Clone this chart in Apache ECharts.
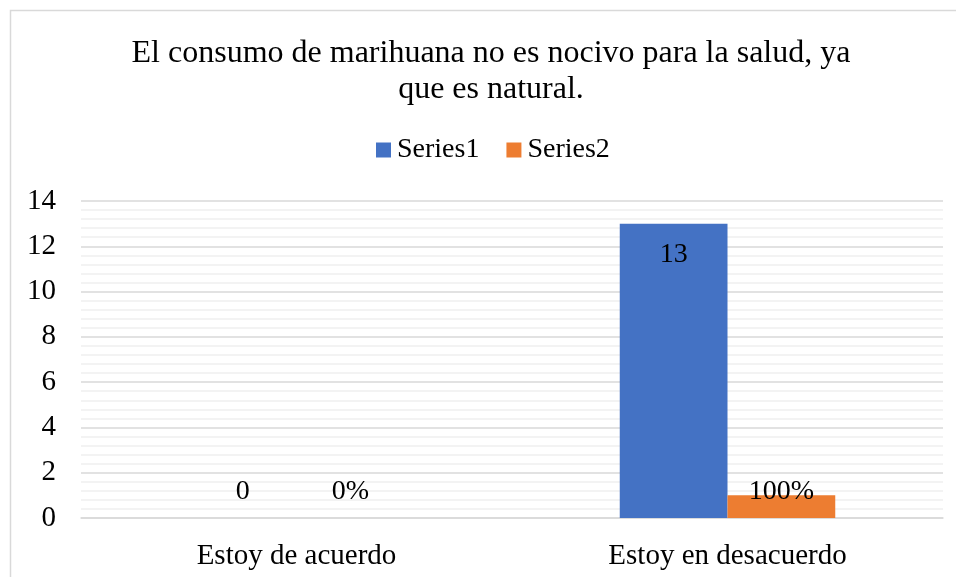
<!DOCTYPE html>
<html>
<head>
<meta charset="utf-8">
<script src="https://cdn.jsdelivr.net/npm/echarts@6/dist/echarts.min.js"></script>
<style>
  html, body { margin: 0; padding: 0; background: #fff; }
  #chart { width: 956px; height: 577px; }
</style>
</head>
<body>
<div id="chart"></div>
<script>
const categories = ['Estoy de acuerdo', 'Estoy en desacuerdo']
const series1 = [0, 13]
const series2 = [0, 1] // shown as percent
const yTicks = { min: 0, max: 14, interval: 2 }

const font = 'Liberation Serif'
const chart = echarts.init(document.getElementById('chart'))

// Excel-style label placement: value labels sit inside the bar end, zeros just above the axis
const labelFor = (v) => (v > 2
  ? { position: 'insideTop', distance: 17 }
  : { position: 'insideBottom', distance: 12 })

const option = {
  animation: false,
  backgroundColor: '#fff',
  graphic: [
    {
      type: 'rect',
      shape: { x: 10.5, y: 10.5, width: 960, height: 600 },
      style: { fill: 'none', stroke: '#d9d9d9', lineWidth: 1.5 },
      silent: true
    }
  ],
  title: {
    text: 'El consumo de marihuana no es nocivo para la salud, ya\nque es natural.',
    left: 486,
    top: 31,
    textAlign: 'center',
    textStyle: {
      fontFamily: font,
      fontSize: 32,
      fontWeight: 'normal',
      color: '#000',
      lineHeight: 36
    }
  },
  legend: {
    left: 371,
    top: 131,
    itemWidth: 15,
    itemHeight: 15,
    itemGap: 27,
    icon: 'rect',
    textStyle: { fontFamily: font, fontSize: 28, color: '#000', padding: [0, 0, 0, 1] }
  },
  grid: {
    left: 81,
    right: 13,
    top: 201,
    bottom: 59
  },
  xAxis: {
    type: 'category',
    data: categories,
    axisLine: { lineStyle: { color: '#d9d9d9', width: 1.5 } },
    axisTick: { show: false },
    axisLabel: { fontFamily: font, fontSize: 29, color: '#000', margin: 24 }
  },
  yAxis: {
    type: 'value',
    min: yTicks.min,
    max: yTicks.max,
    interval: yTicks.interval,
    axisLine: { show: false },
    axisTick: { show: false },
    axisLabel: { fontFamily: font, fontSize: 29, color: '#000', margin: 25 },
    splitLine: { lineStyle: { color: '#d9d9d9', width: 1.5 } },
    minorTick: { show: false, splitNumber: 5 },
    minorSplitLine: { show: true, lineStyle: { color: '#f0f0f0', width: 1.5 } }
  },
  series: [
    {
      name: 'Series1',
      type: 'bar',
      barGap: '0%',
      barCategoryGap: '50%',
      itemStyle: { color: '#4472c4' },
      label: { show: true, fontFamily: font, fontSize: 28, color: '#000' },
      data: series1.map((v) => ({ value: v, label: labelFor(v) }))
    },
    {
      name: 'Series2',
      type: 'bar',
      itemStyle: { color: '#ed7d31' },
      label: {
        show: true,
        fontFamily: font,
        fontSize: 28,
        color: '#000',
        formatter: (p) => Math.round(p.value * 100) + '%'
      },
      data: series2.map((v) => ({ value: v, label: labelFor(v) }))
    }
  ]
}
chart.setOption(option)
</script>
</body>
</html>
